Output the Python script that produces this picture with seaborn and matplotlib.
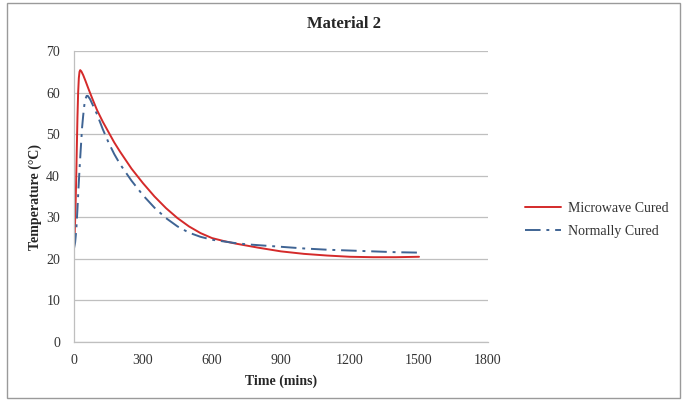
import matplotlib
matplotlib.use("Agg")
import matplotlib.pyplot as plt
import seaborn as sns
import pandas as pd
from matplotlib.patches import Rectangle

# Data
time_micro = [0, 3, 6, 9, 12, 15, 18, 21, 24, 27, 32, 40, 50, 65, 80, 100, 125, 150, 175, 200,
              250, 300, 350, 400, 450, 500, 550, 600, 650, 700, 750, 800, 900, 1000, 1100, 1200,
              1300, 1400, 1500]
temp_micro = [22.8, 26.0, 31.0, 38.0, 46.0, 54.0, 60.0, 63.5, 65.0, 65.4, 65.1, 64.2, 62.8, 60.6,
              58.5, 55.8, 53.0, 50.5, 48.0, 45.8, 41.7, 38.2, 35.0, 32.2, 29.8, 27.8, 26.2, 25.0,
              24.3, 23.7, 23.2, 22.7, 21.8, 21.2, 20.8, 20.5, 20.4, 20.4, 20.5]

time_normal = [0, 5, 10, 15, 20, 25, 30, 35, 40, 45, 50, 55, 60, 70, 80, 100, 125, 150, 175, 200,
               250, 300, 350, 400, 450, 500, 550, 600, 650, 700, 750, 800, 900, 1000, 1100, 1200,
               1300, 1400, 1500]
temp_normal = [22.5, 24.0, 27.0, 32.0, 37.5, 42.5, 47.0, 51.5, 54.5, 57.0, 58.5, 59.2, 59.2, 58.4,
               57.2, 54.8, 51.2, 48.0, 45.2, 42.8, 38.8, 35.3, 32.3, 29.8, 27.8, 26.3, 25.3, 24.6,
               24.2, 23.8, 23.5, 23.3, 22.9, 22.5, 22.2, 22.0, 21.8, 21.6, 21.5]

series_names = ["Microwave Cured", "Normally Cured"]
x_ticks = [0, 300, 600, 900, 1200, 1500, 1800]
y_ticks = [0, 10, 20, 30, 40, 50, 60, 70]

df = pd.concat([
    pd.DataFrame({"Time": time_micro, "Temp": temp_micro, "Series": series_names[0]}),
    pd.DataFrame({"Time": time_normal, "Temp": temp_normal, "Series": series_names[1]}),
])

sns.set_theme(style="white")
plt.rcParams["font.family"] = ["Liberation Serif", "DejaVu Serif"]

fig = plt.figure(figsize=(6.83, 4.03), dpi=100)
ax = fig.add_axes([74 / 683, 1 - 342 / 403, (488 - 74) / 683, (342 - 51) / 403])

colors = {"Microwave Cured": "#d42a2a", "Normally Cured": "#3f6494"}
sns.lineplot(data=df, x="Time", y="Temp", hue="Series", style="Series",
             palette=colors, dashes={"Microwave Cured": "", "Normally Cured": (8, 3, 1.5, 3)},
             linewidth=1.4, ax=ax, sort=False)

ax.set_xlim(0, 1800)
ax.set_ylim(0, 70)
ax.set_xticks(x_ticks)
ax.set_yticks(y_ticks)
ax.tick_params(axis="x", labelsize=10, length=0, pad=9, colors="#333333")
ax.tick_params(axis="y", labelsize=10, length=0, pad=10, colors="#333333")
ax.yaxis.grid(True, color="#bfbfbf", linewidth=0.9)
ax.xaxis.grid(False)
for side in ["top", "right"]:
    ax.spines[side].set_visible(False)
for side in ["left", "bottom"]:
    ax.spines[side].set_color("#bfbfbf")
    ax.spines[side].set_linewidth(0.9)

ax.set_xlabel("Time (mins)", fontsize=10, fontweight="bold", labelpad=5)
ax.set_ylabel("Temperature (°C)", fontsize=10, fontweight="bold", labelpad=3)
fig.text(344 / 683, 1 - 24 / 403, "Material 2", ha="center", va="center",
         fontsize=12, fontweight="bold")

leg = ax.legend(loc="center left", bbox_to_anchor=(1.06, 0.42), frameon=False,
                fontsize=10, handlelength=2.6, handletextpad=0.5, labelspacing=0.75)
for t in leg.get_texts():
    t.set_color("#333333")

fig.patches.append(Rectangle((7 / 683, 1 - 398 / 403), (680 - 7) / 683, (398 - 3) / 403,
                             transform=fig.transFigure, fill=False,
                             edgecolor="#9a9a9a", linewidth=1.0))

fig.savefig("out.png", dpi=100)
